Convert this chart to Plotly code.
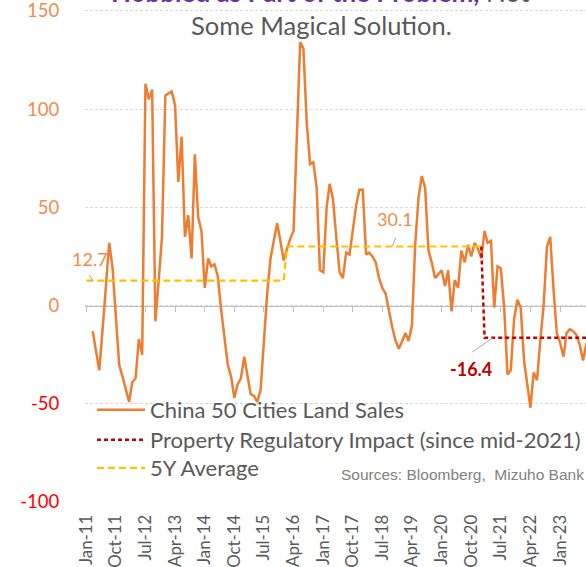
import pandas as pd
import plotly.graph_objects as go

# ---- data ----
land_start = "2011-03-01"
land_sales = [
    -13, -24, -33, -12, 10, 32, 19, -6, -30, -36,
    -42, -49, -39, -37, -17, -25, 113, 105, 110, -8,
    13, 35, 107, 108, 109, 102, 63, 86, 35, 46,
    24, 77, 45, 38, 9, 24, 20, 21, 15, -2,
    -15, -30, -36, -47, -40, -37, -26, -36, -45, -46,
    -49, -43, -16, 6, 24, 32, 42, 33, 23, 29,
    34, 38, 86, 134, 131, 93, 72, 73, 60, 18,
    17, 50, 62, 54, 35, 17, 14, 27, 26, 38,
    51, 59, 59, 26, 27, 25, 22, 14, 9, 6,
    -3, -11, -18, -22, -18, -14, -18, -10, 31, 55,
    66, 60, 28, 22, 14, 16, 18, 10, 18, -3,
    13, 9, 28, 22, 31, 25, 32, 29, 24, 38,
    32, 33, -1, 20, 19, -1, -35, -33, -7, 3,
    -1, -28, -40, -52, -34, -38, -18, 0, 30, 35,
    8, -14, -19, -26, -14, -12, -13, -15, -20, -28,
    -19,
]
land_dates = pd.date_range(land_start, periods=len(land_sales), freq="MS")

avg_dates = ["2011-01-01", "2016-01-01", "2016-02-01", "2021-01-01"]
avg_values = [12.7, 12.7, 30.1, 30.1]

reg_dates = ["2021-01-01", "2021-02-01", "2023-09-01"]
reg_values = [30.1, -16.4, -16.4]

tick_dates = pd.date_range("2011-01-01", "2023-01-01", freq="9MS")
tick_labels = [d.strftime("%b-%y") for d in tick_dates]

y_ticks = [-100, -50, 0, 50, 100, 150]

# ---- styling ----
ORANGE = "#ED7D31"
ORANGE_TXT = "#F08C4A"
YELLOW = "#FFC000"
DRED = "#C00000"
GREY = "#595959"
GRID = "#D9D9D9"
FONT = "Lato"

x_range = ["2010-12-20", "2023-08-28"]
y_range = [-100, 153.05]
PLOT_TOP, PLOT_BOTTOM = 5, 502          # pixel rows of the plot area
PH = PLOT_BOTTOM - PLOT_TOP


def py(px):
    """pixel row -> paper y"""
    return (PLOT_BOTTOM - px) / PH


def px_x(px):
    """pixel column -> paper x"""
    return (px - 85) / 501


fig = go.Figure()
fig.add_trace(go.Scatter(x=land_dates, y=land_sales, mode="lines",
                         name="China 50 Cities Land Sales",
                         line=dict(color=ORANGE, width=2.5),
                         legend="legend"))
fig.add_trace(go.Scatter(x=reg_dates, y=reg_values, mode="lines",
                         name="Property Regulatory Impact (since mid-2021)",
                         line=dict(color=DRED, width=2.5, dash="4px,3px"),
                         legend="legend2"))
fig.add_trace(go.Scatter(x=avg_dates, y=avg_values, mode="lines",
                         name="5Y Average", xaxis="x2",
                         line=dict(color=YELLOW, width=2.2, dash="7px,4px"),
                         legend="legend3"))


def tick_text(v):
    c = ORANGE_TXT if v >= 0 else "#FF0000"
    return f'<span style="color:{c}">{v}</span>'


def legend_box(row_center_px):
    return dict(x=0.014, y=py(row_center_px), xanchor="left", yanchor="middle",
                bgcolor="rgba(0,0,0,0)", borderwidth=0,
                font=dict(size=22, color=GREY, family=FONT), itemwidth=48)


fig.update_layout(
    template="none",
    width=586, height=567,
    margin=dict(l=85, r=0, t=PLOT_TOP, b=567 - PLOT_BOTTOM, autoexpand=False),
    paper_bgcolor="white", plot_bgcolor="white",
    font=dict(family=FONT, color=GREY),
    showlegend=True,
    legend=legend_box(410),
    legend2=legend_box(440),
    legend3=legend_box(468),
    xaxis=dict(type="date", range=x_range, tickvals=list(tick_dates), ticktext=tick_labels,
               tickangle=-90, tickfont=dict(size=16.8, color=GREY, family=FONT),
               showgrid=False, zeroline=False, showline=False, automargin=False,
               ticklabeloverflow="allow",
               ticks="outside", ticklen=5, tickcolor="rgba(0,0,0,0)"),
    xaxis2=dict(type="date", range=x_range, overlaying="x", anchor="free",
                position=(0 - y_range[0]) / (y_range[1] - y_range[0]),
                side="bottom", showticklabels=False, showgrid=False, zeroline=False,
                showline=True, linecolor="#BFBFBF", linewidth=1, automargin=False,
                ticks="outside", ticklen=5, tickcolor="#BFBFBF",
                tickvals=list(tick_dates), layer="below traces"),
    yaxis=dict(range=y_range, tickvals=y_ticks, ticktext=[tick_text(v) for v in y_ticks],
               tickfont=dict(size=18.5, family=FONT), automargin=False,
               ticklabeloverflow="allow",
               showgrid=True, gridcolor=GRID, griddash="3px,2px", gridwidth=1,
               zeroline=False, showline=False,
               ticks="outside", ticklen=21, tickcolor="rgba(0,0,0,0)"),
)

# value labels with leader lines
fig.add_annotation(x="2011-03-05", y=avg_values[0], ax=-5, ay=-7, text="",
                   showarrow=True, arrowhead=0, arrowwidth=1, arrowcolor="#A6A6A6")
fig.add_annotation(x="2011-03-05", y=avg_values[0], text=f"{avg_values[0]}", showarrow=False,
                   xshift=-3, yshift=22, font=dict(size=18, color=ORANGE_TXT, family=FONT))
fig.add_annotation(x="2018-10-01", y=avg_values[-1], ax=4, ay=-10, text="",
                   showarrow=True, arrowhead=0, arrowwidth=1, arrowcolor="#A6A6A6")
fig.add_annotation(x="2018-10-01", y=avg_values[-1], text=f"{avg_values[-1]}", showarrow=False,
                   xshift=3, yshift=27, font=dict(size=18, color=ORANGE_TXT, family=FONT))
fig.add_annotation(x="2021-04-20", y=reg_values[-1], ax=-22, ay=15, text="",
                   showarrow=True, arrowhead=0, arrowwidth=1, arrowcolor="#A6A6A6")
fig.add_annotation(x="2021-04-20", y=reg_values[-1], text=f"<b>{reg_values[-1]}</b>", showarrow=False,
                   xshift=-22, yshift=-31, font=dict(size=18, color=DRED, family=FONT))

# title (top line is cropped in the reference)
fig.add_annotation(xref="paper", yref="paper", x=px_x(320), y=py(10),
                   xanchor="center", yanchor="bottom", showarrow=False,
                   text='<b><span style="color:#7030A0">Hobbled as Part of the Problem,</span></b> Not',
                   font=dict(size=26, color=GREY, family=FONT))
fig.add_annotation(xref="paper", yref="paper", x=px_x(321), y=py(25),
                   xanchor="center", yanchor="middle", showarrow=False,
                   text="Some Magical Solution.", font=dict(size=25.5, color=GREY, family=FONT))

# source
fig.add_annotation(xref="paper", yref="paper", x=1.0, y=py(474),
                   xanchor="right", yanchor="middle", showarrow=False,
                   text="Sources: Bloomberg,  Mizuho Bank",
                   font=dict(size=15.5, color="#7F7F7F", family="Liberation Sans"))

fig.write_html("out.html", config={"displayModeBar": False},
               post_script="document.body.style.margin='0';")
